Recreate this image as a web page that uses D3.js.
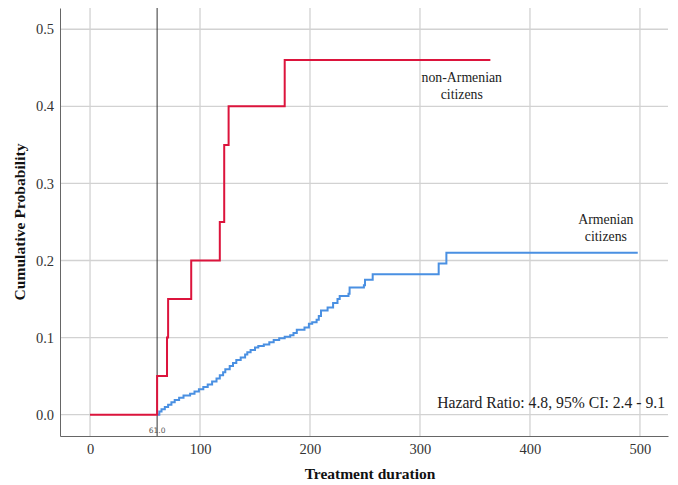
<!DOCTYPE html>
<html>
<head>
<meta charset="utf-8">
<script src="https://cdn.jsdelivr.net/npm/d3@7"></script>
<style>
  body { margin: 0; background: #fff; }
  svg { display: block; }
  svg text { font-family: "Liberation Serif", "Times New Roman", serif; }
  svg text.small { font-family: "DejaVu Sans", sans-serif; }
</style>
</head>
<body>
<div id="chart"></div>
<script>
// tick values
const xTicks = [0, 100, 200, 300, 400, 500];
const yTicks = [0, 0.1, 0.2, 0.3, 0.4, 0.5];

// non-Armenian citizens (step function, time -> cumulative probability)
const redTimes = [0, 61, 70, 71, 92, 118, 122, 126, 177, 364];
const redValues = [0, 0.05, 0.10, 0.15, 0.20, 0.25, 0.35, 0.40, 0.46, 0.46];

// Armenian citizens
const blueTimes = [61, 63, 65, 68, 71, 74, 77, 81, 85, 91, 95, 99, 103, 107, 111, 115, 118, 121, 123, 127,
  130, 133, 137, 141, 143, 146, 150, 153, 158, 163, 167, 172, 177, 182, 185, 188, 195, 199, 202, 206, 208,
  210, 216, 221, 225, 227, 235, 236, 249, 250, 257, 317, 324, 498];
const blueValues = [0, 0.004, 0.007, 0.010, 0.013, 0.016, 0.019, 0.022, 0.025, 0.027, 0.030, 0.033, 0.036, 0.039, 0.043, 0.047, 0.051, 0.055, 0.059, 0.063,
  0.067, 0.071, 0.074, 0.078, 0.081, 0.084, 0.087, 0.089, 0.091, 0.094, 0.097, 0.099, 0.101, 0.103, 0.106, 0.110, 0.113, 0.118, 0.120, 0.123, 0.128,
  0.135, 0.139, 0.145, 0.150, 0.154, 0.157, 0.165, 0.168, 0.175, 0.182, 0.196, 0.210, 0.210];

const refTime = 61;
const hazardText = 'Hazard Ratio: 4.8, 95% CI: 2.4 - 9.1';

const width = 678;
const height = 485;
const margin = { top: 8, right: 10, bottom: 49, left: 60 };

const x = d3.scaleLinear()
  .domain([-27.3, 525.5])
  .range([margin.left, width - margin.right]);

const y = d3.scaleLinear()
  .domain([-0.0277, 0.5276])
  .range([height - margin.bottom, margin.top]);

const svg = d3.select('#chart')
  .append('svg')
  .attr('width', width)
  .attr('height', height);

// grid
svg.append('g')
  .selectAll('line')
  .data(xTicks)
  .join('line')
  .attr('x1', (d) => x(d))
  .attr('x2', (d) => x(d))
  .attr('y1', margin.top)
  .attr('y2', height - margin.bottom)
  .attr('stroke', '#d2d2d2')
  .attr('stroke-width', 1.3);

svg.append('g')
  .selectAll('line')
  .data(yTicks)
  .join('line')
  .attr('x1', margin.left)
  .attr('x2', width - margin.right)
  .attr('y1', (d) => y(d))
  .attr('y2', (d) => y(d))
  .attr('stroke', '#d2d2d2')
  .attr('stroke-width', 1.3);

// axes
const xAxis = (g) => g
  .attr('transform', `translate(0,${height - margin.bottom})`)
  .call(d3.axisBottom(x).tickValues(xTicks).tickSize(0).tickPadding(8).tickFormat(d3.format('d')))
  .call((g) => g.select('.domain').attr('stroke', '#666'))
  .call((g) => g.selectAll('text')
    .attr('font-size', 14.5)
    .attr('fill', '#333'));

const yAxis = (g) => g
  .attr('transform', `translate(${margin.left},0)`)
  .call(d3.axisLeft(y).tickValues(yTicks).tickSize(0).tickPadding(6).tickFormat(d3.format('.1f')))
  .call((g) => g.select('.domain').attr('stroke', '#666'))
  .call((g) => g.selectAll('text')
    .attr('font-size', 14.5)
    .attr('fill', '#333'));

svg.append('g').call(xAxis);
svg.append('g').call(yAxis);

// reference line
svg.append('line')
  .attr('x1', x(refTime))
  .attr('x2', x(refTime))
  .attr('y1', margin.top)
  .attr('y2', height - margin.bottom)
  .attr('stroke', '#333')
  .attr('stroke-width', 1);

svg.append('text')
  .attr('class', 'small')
  .attr('x', x(refTime))
  .attr('y', height - margin.bottom - 3)
  .attr('text-anchor', 'middle')
  .attr('font-size', 7.5)
  .attr('fill', '#555')
  .text(d3.format('.1f')(refTime));

// curves
const line = d3.line()
  .curve(d3.curveStepAfter)
  .x((d) => x(d[0]))
  .y((d) => y(d[1]));

svg.append('path')
  .datum(d3.zip(blueTimes, blueValues))
  .attr('fill', 'none')
  .attr('stroke', '#4a90e2')
  .attr('stroke-width', 2)
  .attr('d', line);

svg.append('path')
  .datum(d3.zip(redTimes, redValues))
  .attr('fill', 'none')
  .attr('stroke', '#dc143c')
  .attr('stroke-width', 2)
  .attr('d', line);

// labels
const label = (lines, cx, cy) => {
  const t = svg.append('text')
    .attr('text-anchor', 'middle')
    .attr('font-size', 13.8)
    .attr('fill', '#222');
  lines.forEach((s, i) => {
    t.append('tspan')
      .attr('x', cx)
      .attr('y', cy + i * 16.5)
      .text(s);
  });
};
label(['non-Armenian', 'citizens'], x(338), y(0.4) - 24);
label(['Armenian', 'citizens'], x(469), y(0.2) - 36);

svg.append('text')
  .attr('x', 665)
  .attr('y', 408)
  .attr('text-anchor', 'end')
  .attr('font-size', 15.7)
  .attr('fill', '#222')
  .text(hazardText);

// axis titles
svg.append('text')
  .attr('x', (margin.left + width - margin.right) / 2 + 6)
  .attr('y', 479)
  .attr('text-anchor', 'middle')
  .attr('font-size', 15.5)
  .attr('font-weight', 'bold')
  .attr('fill', '#111')
  .text('Treatment duration');

svg.append('text')
  .attr('transform', `translate(25,${(margin.top + height - margin.bottom) / 2}) rotate(-90)`)
  .attr('text-anchor', 'middle')
  .attr('font-size', 15.6)
  .attr('font-weight', 'bold')
  .attr('fill', '#111')
  .text('Cumulative Probability');
</script>
</body>
</html>
